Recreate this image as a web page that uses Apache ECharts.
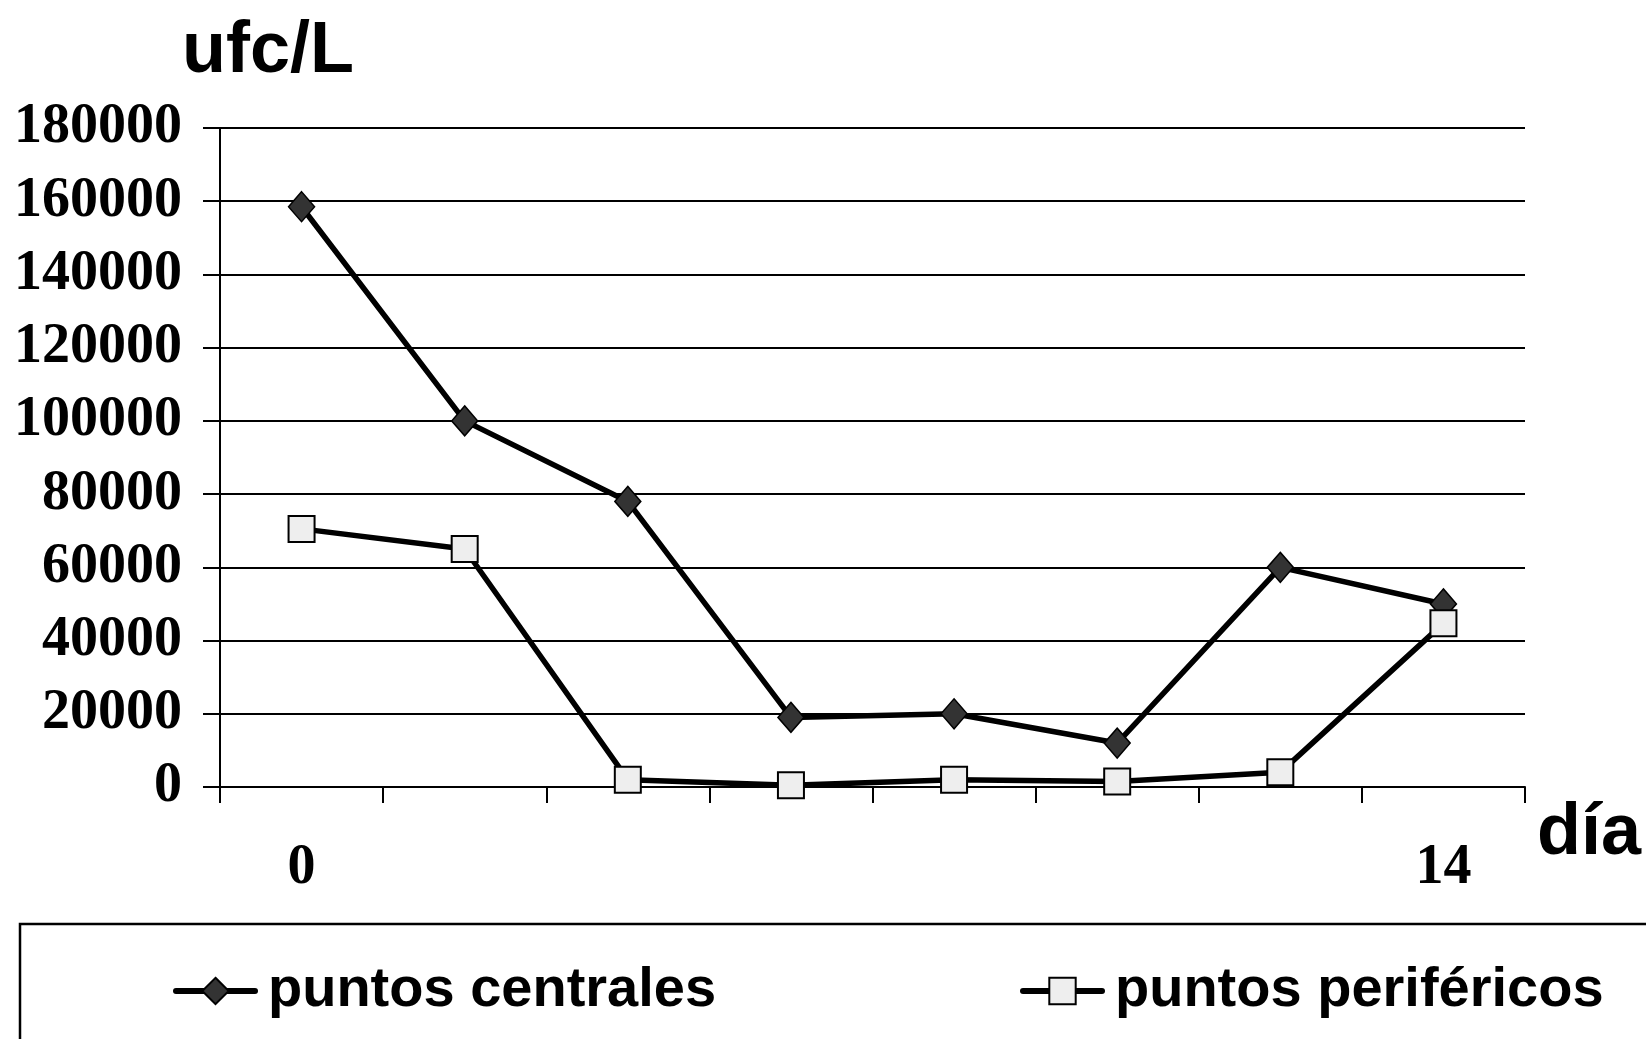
<!DOCTYPE html>
<html>
<head>
<meta charset="utf-8">
<script src="https://cdn.jsdelivr.net/npm/echarts@6/dist/echarts.min.js"></script>
<style>
html,body{margin:0;padding:0;background:#fff;}
#chart{width:1646px;height:1039px;}
</style>
</head>
<body>
<div id="chart"></div>
<script>
const categories = ['0', '2', '4', '6', '8', '10', '12', '14'];
const tickLabels = ['0', '', '', '', '', '', '', '14'];
const centrales = [158500, 100000, 78000, 19000, 20000, 12000, 60000, 50000];
const perifericos = [70500, 65000, 2000, 500, 2000, 1500, 4000, 44700];
const seriesNames = ['puntos centrales', 'puntos periféricos'];
const yTitle = 'ufc/L';
const xTitle = 'día';

const chart = echarts.init(document.getElementById('chart'));
const serif = '"Liberation Serif", "Times New Roman", serif';
const sans = '"Liberation Sans", Arial, sans-serif';

const legendCommon = {
  top: 963, padding: 0,
  itemWidth: 79, itemHeight: 33,
  lineStyle: { width: 6, cap: 'round' },
  textStyle: { fontFamily: sans, fontWeight: 'bold', fontSize: 56, lineHeight: 56, color: '#000', padding: [0, 0, 0, 8] }
};

chart.setOption({
  animation: false,
  backgroundColor: '#fff',
  grid: { left: 220, right: 121, top: 128, bottom: 252, containLabel: false },
  xAxis: {
    type: 'category',
    data: categories,
    boundaryGap: true,
    axisLine: { show: true, lineStyle: { color: '#000', width: 2 } },
    axisTick: { show: true, length: 16, alignWithLabel: false, lineStyle: { color: '#000', width: 2 } },
    axisLabel: {
      interval: 0,
      margin: 54,
      formatter: function (v, i) { return tickLabels[i]; },
      fontFamily: serif, fontWeight: 'bold', fontSize: 56, lineHeight: 56, color: '#000'
    },
    splitLine: { show: false }
  },
  yAxis: {
    type: 'value',
    min: 0, max: 180000, interval: 20000,
    axisLine: { show: true, lineStyle: { color: '#000', width: 2 } },
    axisTick: { show: true, length: 17, lineStyle: { color: '#000', width: 2 } },
    axisLabel: {
      margin: 38,
      padding: [7, 0, 0, 0],
      formatter: function (v) { return String(v); },
      fontFamily: serif, fontWeight: 'bold', fontSize: 56, color: '#000'
    },
    splitLine: { show: true, lineStyle: { color: '#000', width: 2 } }
  },
  legend: [
    Object.assign({ data: [seriesNames[0]], left: 173 }, legendCommon),
    Object.assign({ data: [seriesNames[1]], left: 1020 }, legendCommon)
  ],
  graphic: [
    { type: 'text', left: 182, top: 16, style: { text: yTitle, font: 'bold 72px ' + sans, fill: '#000' } },
    { type: 'text', left: 1537, top: 798, style: { text: xTitle, font: 'bold 72px ' + sans, fill: '#000' } },
    { type: 'rect', shape: { x: 20, y: 924, width: 1700, height: 300 }, style: { fill: 'none', stroke: '#000', lineWidth: 2.5 }, z: 10 }
  ],
  series: [
    {
      name: seriesNames[0], type: 'line', data: centrales,
      symbol: 'diamond', symbolSize: [26, 30],
      lineStyle: { color: '#000', width: 5.5, cap: 'round', join: 'round' },
      itemStyle: { color: '#333333', borderColor: '#000', borderWidth: 1.5 },
      z: 2
    },
    {
      name: seriesNames[1], type: 'line', data: perifericos,
      symbol: 'rect', symbolSize: [26, 26],
      lineStyle: { color: '#000', width: 5.5, cap: 'round', join: 'round' },
      itemStyle: { color: '#eeeeee', borderColor: '#000', borderWidth: 2 },
      z: 3
    }
  ]
});
</script>
</body>
</html>
